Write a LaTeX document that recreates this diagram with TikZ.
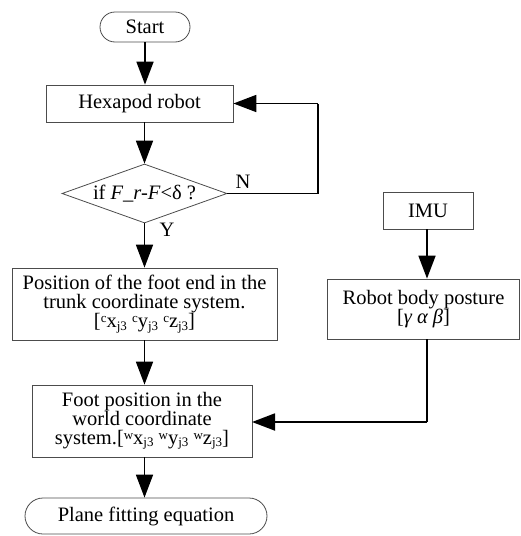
\documentclass[tikz,border=0pt]{standalone}
\usepackage{fontspec}
\setmainfont{Liberation Serif}
\usetikzlibrary{arrows.meta,shapes.geometric}
% small index set just below the baseline
\newcommand\idx[1]{\raisebox{-0.25ex}{\fontsize{13}{13}\selectfont #1}}
\newcommand\frm[1]{\raisebox{0.55ex}{\fontsize{13}{13}\selectfont #1}}
\begin{document}
\begin{tikzpicture}[x=1pt,y=1pt,
  every node/.style={font=\fontsize{20.5}{19}\selectfont, text=black},
  box/.style={draw=black!70, line width=0.8pt, rectangle, inner sep=0pt, align=center},
  term/.style={box, rounded corners=15pt},
  decision/.style={draw=black!70, line width=0.8pt, diamond, aspect=2.8, inner sep=0pt},
  flow/.style={line width=1.8pt, -{Triangle[width=17pt,length=23pt]}},
  wire/.style={line width=1.8pt}
]
\useasboundingbox (0,0) rectangle (521,-536);

% main column
\node[term, minimum width=90pt, minimum height=30pt] (start) at (145,-27) {Start};
\node[box, minimum width=187pt, minimum height=37pt] (hexa) at (139.5,-103.5) {Hexapod robot};
\node[decision, minimum width=165pt, minimum height=59pt] (test) at (144.5,-193.5) {if \textit{F\_r-F}<δ ?};
\node[box, minimum width=265pt, minimum height=72pt] (trunk) at (144.5,-304)
  {Position of the foot end in the\\ trunk coordinate system.\\{}%
   [\frm{c}x\idx{j3} \frm{c}y\idx{j3} \frm{c}z\idx{j3}]};
\node[box, minimum width=220pt, minimum height=72pt] (world) at (142,-421)
  {Foot position in the\\ world coordinate\\
   system.[\frm{w}x\idx{j3} \frm{w}y\idx{j3} \frm{w}z\idx{j3}]};
\node[term, minimum width=242pt, minimum height=36pt, rounded corners=18pt] (plane) at (146,-516) {Plane fitting equation};

% sensor column
\node[box, minimum width=90pt, minimum height=37pt] (imu) at (428,-210.5) {IMU};
\node[box, minimum width=192pt, minimum height=60pt] (pose) at (423.5,-309)
  {Robot body posture\\{}[\textit{γ α β}]};

% loop and branch labels
\coordinate (loopA) at (318,-193.5);
\coordinate (loopB) at (318,-103.5);
\coordinate (poseOut) at (427,-339);
\coordinate (poseTurn) at (427,-422);
\coordinate (worldIn) at (252,-422);
\node (nlab) at (243,-182) {N};
\node (ylab) at (167,-230) {Y};

% connectors
\draw[flow] (start.south) -- (start.south |- hexa.north);
\draw[flow] (test.north |- hexa.south) -- (test.north);
\draw[flow] (test.south) -- (test.south |- trunk.north);
\draw[flow] (test.south |- trunk.south) -- (test.south |- world.north);
\draw[flow] (test.south |- world.south) -- (test.south |- plane.north);
\draw[wire] (test.east) -- (loopA) -- (loopB);
\draw[flow] (loopB) -- (hexa.east);
\draw[flow] (imu.south -| poseOut) -- (poseOut |- pose.north);
\draw[wire] (poseOut) -- (poseTurn);
\draw[flow] (poseTurn) -- (worldIn);
\end{tikzpicture}
\end{document}
